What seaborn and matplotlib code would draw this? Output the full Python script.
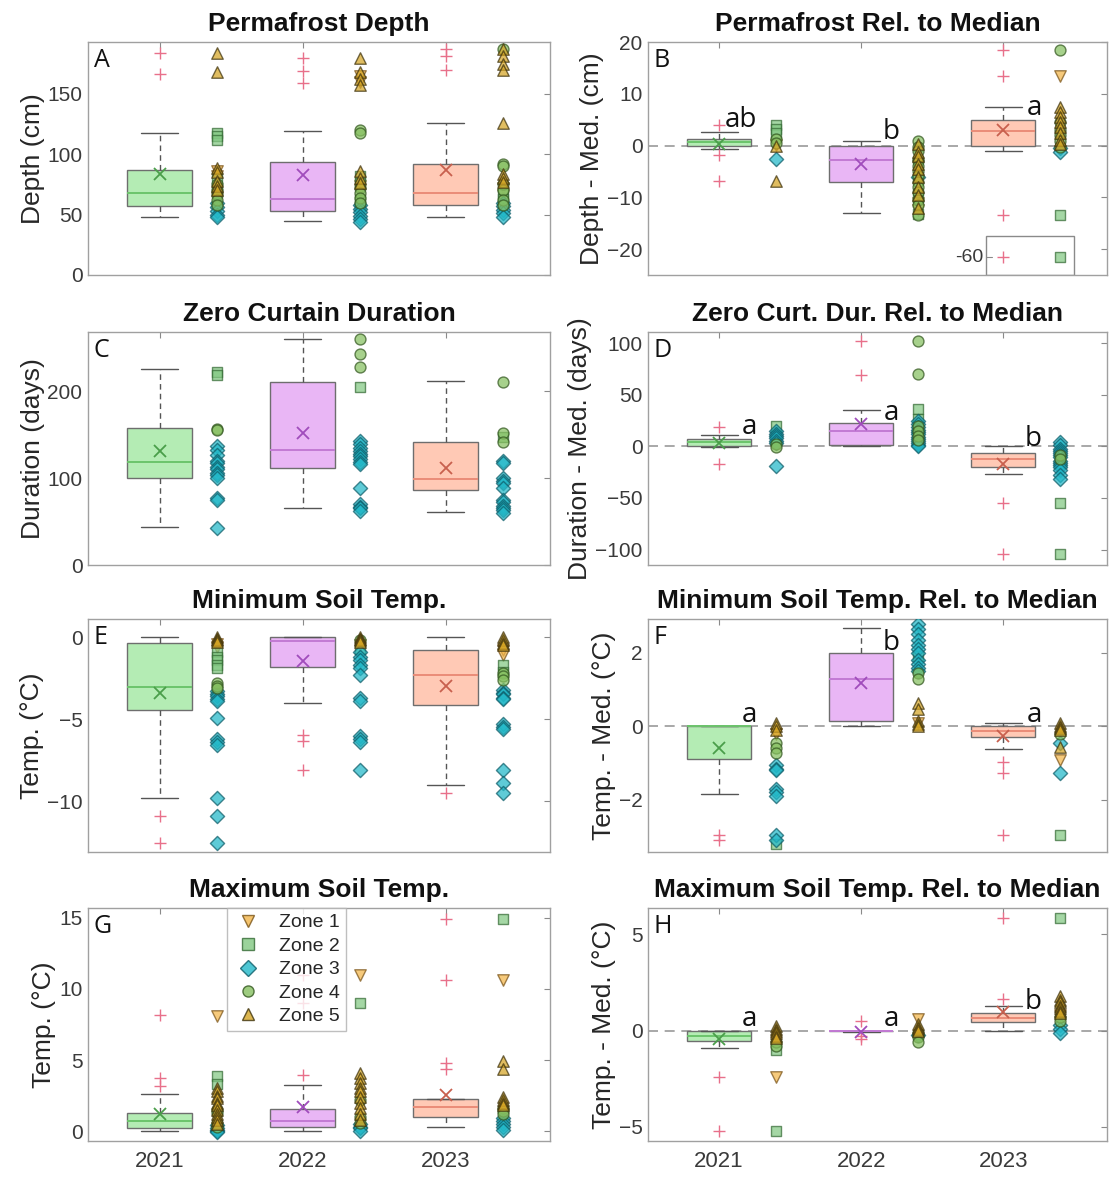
import numpy as np
import pandas as pd
import matplotlib
matplotlib.use("Agg")
import matplotlib.pyplot as plt
import seaborn as sns
from matplotlib.patches import Rectangle
from matplotlib.lines import Line2D

# ---------------- data ----------------
YEARS = ["2021", "2022", "2023"]
ZONES = ["Zone 1", "Zone 2", "Zone 3", "Zone 4", "Zone 5"]

# A: Permafrost depth (cm)
A_Q1 = [57.0, 53.3, 58.0]
A_MED = [67.8, 63.0, 68.0]
A_Q3 = [87.2, 94.0, 92.0]
A_LO = [48.3, 44.4, 48.0]
A_HI = [118.0, 119.4, 126.0]
A_MEAN = [83.3, 82.5, 87.0]
A_OUT = [[184, 166.7], [180, 169, 159], [187, 181, 170]]
A_Z1 = [[86, 82, 64], [165, 160, 74, 70], [72, 66]]
A_Z2 = [[118, 115, 112, 80, 72], [82, 76, 62, 57], [68, 63]]
A_Z3 = [[60, 56, 53, 50, 48], [58, 55, 52, 49, 46, 44], [60, 57, 54, 51, 48]]
A_Z4 = [[75, 70, 66, 62, 58], [120, 118, 72, 68, 64, 60], [187, 92, 90, 75, 70, 62, 58]]
A_Z5 = [[184, 168, 89, 85, 78, 74, 70], [180, 168, 162, 157, 86, 80, 76],
        [187, 181, 175, 170, 126, 84, 80, 77]]

# B: Permafrost relative to median (cm)
B_Q1 = [0.0, -7.1, 0.0]
B_MED = [0.6, -2.8, 2.9]
B_Q3 = [1.3, 0.0, 5.0]
B_LO = [-0.6, -13.1, -1.1]
B_HI = [2.7, 0.8, 7.5]
B_MEAN = [0.3, -3.5, 3.0]
B_OUT = [[3.9, -1.9, -6.8], [], [18.5, 13.5, -13.5, -60]]
B_Z1 = [[0.2], [-11.0, -12.5], [13.4]]
B_Z2 = [[4.0, 3.2, 2.5], [-10.0, -13.3], [-13.5, -60]]
B_Z3 = [[-2.5], [-6.0], [-0.5, -1.2]]
B_Z4 = [[1.3, 0.5], [0.8, -0.2, -1.0, -2.5, -3.0, -4.0, -5.0, -5.8, -7.0, -8.0, -9.0, -10.5, -11.5, -13.5],
        [18.5, 4.5, 3.0, 2.0, 0.8, -0.3]]
B_Z5 = [[0.0, -6.8], [0.3, -1.2, -2.0, -3.5, -4.5, -6.0, -8.0, -9.5, -12.0],
        [7.4, 6.5, 5.5, 4.5, 3.5, 2.5, 1.0, 0.3]]
B_SIG = ["ab", "b", "a"]
B_SIG_Y = [5.0, 2.6, 7.3]

# C: Zero curtain duration (days)
C_Q1 = [100.0, 112.0, 85.7]
C_MED = [118.0, 132.0, 99.0]
C_Q3 = [158.0, 211.0, 141.7]
C_LO = [43.6, 65.0, 61.0]
C_HI = [225.0, 259.5, 211.6]
C_MEAN = [131.0, 152.0, 112.0]
C_OUT = [[], [], []]
C_Z1 = [[], [], []]
C_Z2 = [[222, 218], [205], [147]]
C_Z3 = [[137, 132, 127, 120, 117, 113, 110, 106, 103, 100, 77, 75, 43],
        [143, 139, 135, 131, 128, 125, 122, 119, 116, 89, 70, 67, 65, 62],
        [120, 117, 100, 97, 94, 89, 75, 72, 68, 65, 63, 60]]
C_Z4 = [[157, 155], [260, 243, 228], [211, 152, 141]]
C_Z5 = [[], [], []]

# D: Zero curtain duration relative to median (days)
D_Q1 = [0.0, 1.6, -19.5]
D_MED = [3.9, 15.3, -12.4]
D_Q3 = [6.8, 22.8, -5.9]
D_LO = [-1.0, 0.0, -26.3]
D_HI = [11.4, 35.8, 0.0]
D_MEAN = [2.9, 22.0, -17.0]
D_OUT = [[18.5, -17.2], [102, 69.6], [-54.6, -104.4]]
D_Z1 = [[], [], []]
D_Z2 = [[20, 10], [36.5, 27], [-54.6, -104.4]]
D_Z3 = [[15, 12, 10, 8, 5.5, 3, -18.9], [25, 22, 19, 16, 14, 12, 9, 7, 5, 3, 1.5, 0],
        [4, 1, -2, -4, -6, -8, -10, -14, -16, -18, -20, -23, -28, -32]]
D_Z4 = [[2, -1], [102, 70, 20, 15, 10, 6], [-8, -12]]
D_Z5 = [[], [], []]
D_SIG = ["a", "a", "b"]
D_SIG_Y = [18.5, 32.5, 7.0]

# E: Minimum soil temperature (°C)
E_Q1 = [-4.44, -1.83, -4.15]
E_MED = [-3.05, -0.26, -2.3]
E_Q3 = [-0.37, 0.0, -0.77]
E_LO = [-9.8, -4.0, -9.0]
E_HI = [0.0, 0.0, 0.0]
E_MEAN = [-3.38, -1.49, -2.97]
E_OUT = [[-10.9, -12.55], [-5.97, -6.35, -8.1], [-9.5]]
E_Z1 = [[-0.4, -0.6], [-0.5], [-0.8, -1.1]]
E_Z2 = [[-0.9, -1.2, -1.4, -1.7, -1.9], [-0.7], [-1.7, -2.1]]
E_Z3 = [[-3.3, -3.5, -3.6, -3.8, -3.9, -4.95, -6.2, -6.4, -6.6, -9.8, -10.9, -12.55],
        [-0.9, -1.2, -1.4, -1.7, -1.9, -2.3, -3.7, -3.9, -6.0, -6.2, -6.4, -8.1],
        [-3.2, -3.4, -3.5, -3.7, -3.8, -5.3, -5.5, -5.6, -8.1, -8.9, -9.5]]
E_Z4 = [[-2.8, -3.0, -3.1], [-0.2], [-2.2, -2.4, -2.6]]
E_Z5 = [[0.0, -0.1, -0.2, -0.3], [0.0, -0.1, -0.2, -0.3], [0.0, -0.2, -0.35, -0.5]]

# F: Minimum soil temperature relative to median (°C)
F_Q1 = [-0.89, 0.14, -0.29]
F_MED = [0.0, 1.3, -0.14]
F_Q3 = [0.0, 1.99, 0.0]
F_LO = [-1.83, 0.0, -0.62]
F_HI = [0.0, 2.67, 0.09]
F_MEAN = [-0.59, 1.19, -0.27]
F_OUT = [[-2.97, -3.1], [], [-0.96, -1.26, -2.95]]
F_Z1 = [[-0.2], [0.1], [-0.91]]
F_Z2 = [[-3.2], [1.9], [-2.95]]
F_Z3 = [[-1.05, -1.15, -1.2, -1.7, -1.8, -1.9, -2.97, -3.1],
        [2.78, 2.65, 2.5, 2.35, 2.2, 2.1, 2.0, 1.8, 1.7, 1.6, 1.5], [-1.28, -0.45]]
F_Z4 = [[-0.46, -0.6, -0.73], [1.46, 1.28], [-0.2]]
F_Z5 = [[0.1, 0.0, -0.1], [0.64, 0.46, 0.15, 0.05, 0.0], [0.09, 0.0, -0.05, -0.1, -0.55]]
F_SIG = ["a", "b", "a"]
F_SIG_Y = [0.32, 2.28, 0.32]

# G: Maximum soil temperature (°C)
G_Q1 = [0.23, 0.28, 0.98]
G_MED = [0.7, 0.7, 1.71]
G_Q3 = [1.24, 1.57, 2.27]
G_LO = [0.0, 0.0, 0.28]
G_HI = [2.62, 3.23, 2.27]
G_MEAN = [1.22, 1.69, 2.55]
G_OUT = [[8.2, 3.75, 3.2], [11.0, 9.0, 3.98], [14.9, 10.6, 4.8, 4.4]]
G_Z1 = [[8.1], [11.0], [10.6]]
G_Z2 = [[3.87, 3.3], [9.0], [14.9]]
G_Z3 = [[0.4, 0.2, 0.1, 0.0, -0.1], [0.5, 0.3, 0.2, 0.0], [0.9, 0.7, 0.5, 0.3, 0.1]]
G_Z4 = [[1.5, 1.3, 0.6, 0.3], [2.2, 1.0, 0.6], [1.6, 1.4, 1.2]]
G_Z5 = [[3.0, 2.8, 2.5, 2.3, 2.0, 1.8, 1.5, 1.2, 1.0, 0.8, 0.5],
        [4.1, 3.7, 3.4, 3.0, 2.8, 2.4, 2.0, 1.6, 1.2, 0.8],
        [4.9, 4.4, 2.4, 2.2, 2.0, 1.8]]

# H: Maximum soil temperature relative to median (°C)
H_Q1 = [-0.56, -0.03, 0.43]
H_MED = [-0.26, -0.02, 0.66]
H_Q3 = [0.0, 0.0, 0.92]
H_LO = [-0.9, -0.06, 0.0]
H_HI = [0.0, 0.0, 1.27]
H_MEAN = [-0.43, -0.09, 0.95]
H_OUT = [[-2.43, -5.2], [0.52, -0.26, -0.43], [1.65, 5.85]]
H_Z1 = [[-2.43], [0.6], [0.8]]
H_Z2 = [[-1.0, -5.2], [], [5.85]]
H_Z3 = [[], [-0.2], [0.3, 0.1, -0.1]]
H_Z4 = [[-0.6, -0.8], [-0.1, -0.35, -0.6], [0.7, 0.5]]
H_Z5 = [[0.26, 0.1, 0.0, -0.1, -0.26, -0.4], [0.35, 0.2, 0.1, 0.0],
        [1.8, 1.6, 1.5, 1.3, 1.2, 1.0, 0.9]]
H_SIG = ["a", "a", "b"]
H_SIG_Y = [0.6, 0.6, 1.48]

# ---------------- style ----------------
sns.set_theme(style="white")
plt.rcParams["font.family"] = ["Liberation Sans", "DejaVu Sans"]

W, H = 1109, 1177
fig = plt.figure(figsize=(W / 100, H / 100), dpi=100)

COL_X = [88, 648]
COL_W = [462, 459]
ROW_TOP = [42, 332, 619, 908]
AX_H = 233

BOX_FACE = ["#b4ecb4", "#e9b6f5", "#ffc9b5"]
MEAN_COL = ["#4a9e4a", "#a04cbc", "#c8604e"]
MED_COL = ["#6cc46c", "#c27ad4", "#ea8c78"]
FLIER_COL = "#e8708a"
ZONE_MARK = {"Zone 1": "v", "Zone 2": "s", "Zone 3": "D", "Zone 4": "o", "Zone 5": "^"}
ZONE_FACE = {"Zone 1": "#f3b64a", "Zone 2": "#82c882", "Zone 3": "#22b8c8",
             "Zone 4": "#86c060", "Zone 5": "#d4a424"}
ZONE_EDGE = {"Zone 1": "#7a5418", "Zone 2": "#346a34", "Zone 3": "#0c5c68",
             "Zone 4": "#32561f", "Zone 5": "#3e320c"}
ZONE_SIZE = {"Zone 1": 68, "Zone 2": 48, "Zone 3": 52, "Zone 4": 62, "Zone 5": 68}

BREAK_Y = -21.6  # display position of the broken-axis outlier in panel B


def b_disp(v):
    return BREAK_Y if v < -30 else v


def ident(v):
    return v


PANELS = [
    dict(tag="A", title="Permafrost Depth", ylab="Depth (cm)", ylim=(0, 193), yt=[0, 50, 100, 150],
         st=(A_Q1, A_MED, A_Q3, A_LO, A_HI, A_MEAN, A_OUT), zones=(A_Z1, A_Z2, A_Z3, A_Z4, A_Z5)),
    dict(tag="B", title="Permafrost Rel. to Median", ylab="Depth - Med. (cm)", ylim=(-25, 20),
         yt=[-20, -10, 0, 10, 20], st=(B_Q1, B_MED, B_Q3, B_LO, B_HI, B_MEAN, B_OUT),
         zones=(B_Z1, B_Z2, B_Z3, B_Z4, B_Z5), sig=B_SIG, sigy=B_SIG_Y, disp=b_disp),
    dict(tag="C", title="Zero Curtain Duration", ylab="Duration (days)", ylim=(0, 268), yt=[0, 100, 200],
         st=(C_Q1, C_MED, C_Q3, C_LO, C_HI, C_MEAN, C_OUT), zones=(C_Z1, C_Z2, C_Z3, C_Z4, C_Z5)),
    dict(tag="D", title="Zero Curt. Dur. Rel. to Median", ylab="Duration - Med. (days)", ylim=(-115, 111),
         yt=[-100, -50, 0, 50, 100], st=(D_Q1, D_MED, D_Q3, D_LO, D_HI, D_MEAN, D_OUT),
         zones=(D_Z1, D_Z2, D_Z3, D_Z4, D_Z5), sig=D_SIG, sigy=D_SIG_Y),
    dict(tag="E", title="Minimum Soil Temp.", ylab="Temp. (°C)", ylim=(-13.1, 1.1), yt=[-10, -5, 0],
         st=(E_Q1, E_MED, E_Q3, E_LO, E_HI, E_MEAN, E_OUT), zones=(E_Z1, E_Z2, E_Z3, E_Z4, E_Z5)),
    dict(tag="F", title="Minimum Soil Temp. Rel. to Median", ylab="Temp. - Med. (°C)", ylim=(-3.42, 2.92),
         yt=[-2, 0, 2], st=(F_Q1, F_MED, F_Q3, F_LO, F_HI, F_MEAN, F_OUT),
         zones=(F_Z1, F_Z2, F_Z3, F_Z4, F_Z5), sig=F_SIG, sigy=F_SIG_Y),
    dict(tag="G", title="Maximum Soil Temp.", ylab="Temp. (°C)", ylim=(-0.7, 15.7), yt=[0, 5, 10, 15],
         st=(G_Q1, G_MED, G_Q3, G_LO, G_HI, G_MEAN, G_OUT), zones=(G_Z1, G_Z2, G_Z3, G_Z4, G_Z5)),
    dict(tag="H", title="Maximum Soil Temp. Rel. to Median", ylab="Temp. - Med. (°C)", ylim=(-5.73, 6.37),
         yt=[-5, 0, 5], st=(H_Q1, H_MED, H_Q3, H_LO, H_HI, H_MEAN, H_OUT),
         zones=(H_Z1, H_Z2, H_Z3, H_Z4, H_Z5), sig=H_SIG, sigy=H_SIG_Y),
]

TICK_COL = "#3a3a3a"
FRAME_COL = "#a0a0a0"

for i, p in enumerate(PANELS):
    row, col = divmod(i, 2)
    x0, w = COL_X[col], COL_W[col]
    top = ROW_TOP[row]
    ax = fig.add_axes([x0 / W, 1 - (top + AX_H) / H, w / W, AX_H / H])
    disp = p.get("disp", ident)

    if col == 1:
        ax.axhline(0, color="#9a9a9a", lw=1.2, ls=(0, (6, 4)), zorder=0.5)

    q1, med, q3, lo, hi, mean, out = p["st"]
    for j in range(3):
        stats = [dict(q1=q1[j], med=med[j], q3=q3[j], whislo=lo[j], whishi=hi[j],
                      mean=mean[j], fliers=[disp(v) for v in out[j]], label=YEARS[j])]
        ax.bxp(stats, positions=[j + 1], widths=0.45, capwidths=0.26, patch_artist=True,
               showmeans=True, manage_ticks=False, zorder=2,
               boxprops=dict(facecolor=BOX_FACE[j], edgecolor="#6e6e6e", linewidth=1.0),
               medianprops=dict(color=MED_COL[j], linewidth=1.4),
               whiskerprops=dict(color="#555555", linewidth=1.0, linestyle=(0, (4, 3))),
               capprops=dict(color="#555555", linewidth=1.0),
               meanprops=dict(marker="x", markeredgecolor=MEAN_COL[j], markersize=8, markeredgewidth=1.3),
               flierprops=dict(marker="+", markeredgecolor=FLIER_COL, markersize=8, markeredgewidth=1.0))

    rows = []
    for z, zvals in zip(ZONES, p["zones"]):
        for j, vals in enumerate(zvals):
            for v in vals:
                rows.append(dict(x=j + 1 + 0.4, y=disp(v), zone=z))
    df = pd.DataFrame(rows, columns=["x", "y", "zone"])
    for z in ZONES:
        sub = df[df["zone"] == z]
        if len(sub) == 0:
            continue
        sns.scatterplot(data=sub, x="x", y="y", marker=ZONE_MARK[z], s=ZONE_SIZE[z],
                        color=ZONE_FACE[z], edgecolor=ZONE_EDGE[z], linewidth=1.0,
                        alpha=0.72, legend=False, ax=ax, zorder=3)

    ax.set_xlim(0.5, 3.73)
    ax.set_ylim(*p["ylim"])
    ax.set_yticks(p["yt"])
    ax.set_xticks([1, 2, 3])
    if row == 3:
        ax.set_xticklabels(YEARS)
    else:
        ax.set_xticklabels([])
    ax.set_xlabel("")
    ax.set_ylabel(p["ylab"], fontsize=19, color="#262626", labelpad=2)
    ax.set_title(p["title"], fontsize=19, fontweight="bold", color="#111111", pad=8)
    ax.tick_params(direction="in", length=4, width=0.8, top=True, right=True,
                   color="#8a8a8a", labelcolor=TICK_COL, labelsize=15, pad=4)
    ax.tick_params(axis="x", pad=7, labelsize=16)
    for s in ax.spines.values():
        s.set_color(FRAME_COL)
        s.set_linewidth(1.0)
    ax.grid(False)

    ax.text(0.012, 0.975, p["tag"], transform=ax.transAxes, ha="left", va="top",
            fontsize=18, family=["Open Sans", "DejaVu Sans"], color="#111111", zorder=6)

    if "sig" in p:
        for j, (s, yv) in enumerate(zip(p["sig"], p["sigy"])):
            ax.text(j + 1 + 0.27, yv, s, ha="right", va="center", fontsize=20,
                    family=["Open Sans", "DejaVu Sans"], color="#111111", zorder=6)

    if p["tag"] == "B":
        ax.add_patch(Rectangle((2.88, -25), 0.62, 7.5, fill=False, ec="#8a8a8a", lw=1.0, zorder=1))
        ax.plot([2.88, 2.92], [BREAK_Y, BREAK_Y], color="#8a8a8a", lw=0.8)
        ax.text(2.86, BREAK_Y, "-60", ha="right", va="center", fontsize=14, color=TICK_COL)

    if p["tag"] == "G":
        handles = [Line2D([], [], ls="", marker=ZONE_MARK[z], markersize=8,
                          markerfacecolor=ZONE_FACE[z], markeredgecolor=ZONE_EDGE[z], alpha=0.8,
                          label=z) for z in ZONES]
        leg = ax.legend(handles=handles, loc="upper left", bbox_to_anchor=(0.30, 1.0),
                        fontsize=14, frameon=True, labelspacing=0.3, handletextpad=0.8,
                        borderpad=0.3, handlelength=1.6, borderaxespad=0)
        leg.get_frame().set_edgecolor("#b0b0b0")
        leg.get_frame().set_linewidth(1.0)
        leg.get_frame().set_boxstyle("square", pad=0)
        leg.set_zorder(7)

fig.savefig("out.png", dpi=100)
